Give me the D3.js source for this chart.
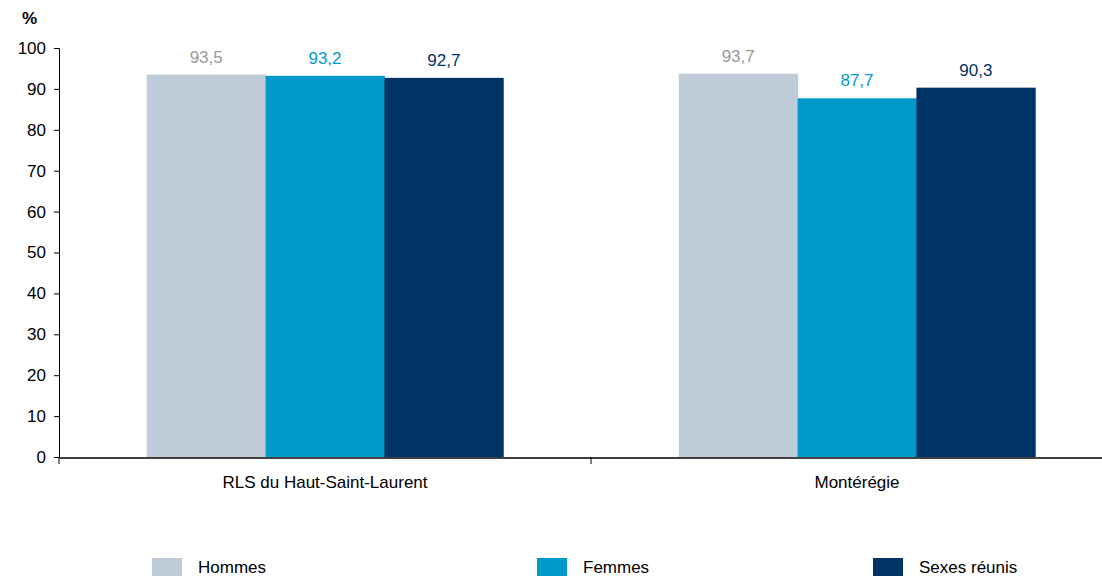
<!DOCTYPE html>
<html><head><meta charset="utf-8">
<script src="https://cdn.jsdelivr.net/npm/d3@7"></script>
<style>
html,body{margin:0;padding:0;background:#fff;}
svg text{font-family:"Liberation Sans",Arial,sans-serif;}
</style></head>
<body>
<script>
const categories = ["RLS du Haut-Saint-Laurent", "Montérégie"];
const seriesNames = ["Hommes", "Femmes", "Sexes réunis"];
const hommes = [93.5, 93.7];
const femmes = [93.2, 87.7];
const sexesReunis = [92.7, 90.3];
const yTicks = [0,10,20,30,40,50,60,70,80,90,100];
const barColors = ["#BDCCD8", "#0099CC", "#003366"];
const labelColors = ["#999999", "#0099CC", "#003366"];

const seriesValues = [hommes, femmes, sexesReunis];
const W = 1102, H = 576;
const FS = 17;
const svg = d3.select("body").append("svg").attr("width", W).attr("height", H);

const x0 = d3.scaleBand().domain(categories).range([59, 1123]).paddingInner(0).paddingOuter(0);
const groupPad = x0.bandwidth() * 0.165;
const x1 = d3.scaleBand().domain(seriesNames).range([groupPad, x0.bandwidth() - groupPad]);
const y = d3.scaleLinear().domain([0, 100]).range([457, 48]);

// bars
categories.forEach((c, ci) => {
  seriesNames.forEach((s, si) => {
    const v = seriesValues[si][ci];
    svg.append("rect")
      .attr("x", x0(c) + x1(s))
      .attr("y", y(v))
      .attr("width", x1.bandwidth() + 0.5)
      .attr("height", y(0) - y(v))
      .attr("fill", barColors[si]);
    svg.append("text")
      .attr("x", x0(c) + x1(s) + x1.bandwidth() / 2)
      .attr("y", y(v) - 12)
      .attr("text-anchor", "middle")
      .attr("font-size", FS)
      .attr("fill", labelColors[si])
      .text(d3.format(".1f")(v).replace(".", ","));
  });
});

// y axis
const yAxis = svg.append("g").attr("transform", "translate(59,0)")
  .call(d3.axisLeft(y).tickValues(yTicks).tickSize(5).tickSizeOuter(5).tickPadding(8));
yAxis.selectAll("text").attr("font-size", FS).attr("fill", "#000").style("font-family", "Liberation Sans, Arial, sans-serif");
yAxis.selectAll("line,path").attr("stroke", "#000");

// x axis
const xAxis = svg.append("g").attr("transform", "translate(0,457.5)")
  .call(d3.axisBottom(x0).tickSize(0).tickSizeOuter(0).tickPadding(0));
xAxis.select(".domain").attr("stroke", "#000").attr("stroke-width", 1.5);
xAxis.selectAll(".tick text").remove();
xAxis.selectAll(".tick line").remove();
// separators between categories
[x0.range()[0], x0(categories[1])].forEach(px => {
  svg.append("line").attr("x1", px).attr("x2", px).attr("y1", 457).attr("y2", 464).attr("stroke", "#000");
});
categories.forEach(c => {
  svg.append("text")
    .attr("x", x0(c) + x0.bandwidth() / 2)
    .attr("y", 488)
    .attr("text-anchor", "middle")
    .attr("font-size", FS)
    .attr("fill", "#000")
    .text(c);
});

// unit label
svg.append("text").attr("x", 22).attr("y", 24).attr("font-size", FS).attr("font-weight", "bold").text("%");

// legend
const legendX = [152, 537, 873];
seriesNames.forEach((s, i) => {
  svg.append("rect").attr("x", legendX[i]).attr("y", 558).attr("width", 30).attr("height", 18).attr("fill", barColors[i]);
  svg.append("text").attr("x", legendX[i] + 46).attr("y", 573).attr("font-size", FS).attr("fill", "#000").text(s);
});
</script>
</body></html>
